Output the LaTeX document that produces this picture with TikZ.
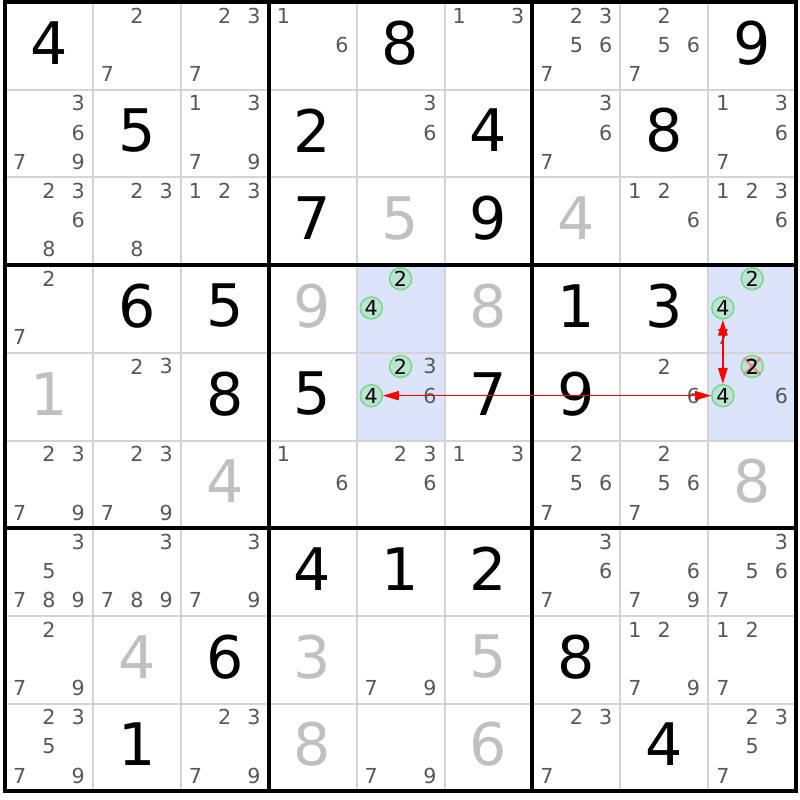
\documentclass[tikz,border=0pt]{standalone}
\usepackage{fontspec}
\setmainfont{DejaVu Sans}
\usetikzlibrary{arrows.meta}

\definecolor{candgray}{RGB}{88,88,88}
\definecolor{solvedgray}{RGB}{192,192,192}
\definecolor{gridgray}{RGB}{212,212,212}
\definecolor{pairblue}{RGB}{220,228,252}
\definecolor{pickgreen}{RGB}{120,215,130}
\definecolor{pickfill}{RGB}{188,228,212}
\definecolor{cutpink}{RGB}{240,128,140}

\tikzset{
  given/.style={inner sep=0pt, font=\fontsize{44}{44}\selectfont},
  solved/.style={given, text=solvedgray},
  cand/.style={inner sep=0pt, text=candgray, font=\fontsize{15.5}{15.5}\selectfont},
  pick/.style={cand, text=black, circle, draw=pickgreen, fill=pickfill, line width=1.1pt, minimum size=16.5pt},
  link/.style={red, line width=0.75pt, >={Triangle[length=12pt,width=7pt]}, <->},
  thinline/.style={gridgray, line width=1.5pt},
  thickline/.style={black, line width=3pt},
}

\begin{document}
\begin{tikzpicture}[x=0.75pt,y=0.75pt,yscale=-1,xscale=1]
  \useasboundingbox (0,0) rectangle (800,800);

  % Highlighted cells
  \fill[pairblue] (356.6,265.1) rectangle (444.5,440.5);
  \fill[pairblue] (708.2,265.1) rectangle (796,440.5);

  % Thin grid lines
  \foreach \i in {1,2,4,5,7,8} {
    \draw[thinline] ({5+\i*87.9},2) -- ({5+\i*87.9},791);
    \draw[thinline] (5,{2+\i*87.7}) -- (796,{2+\i*87.7});
  }
  % Thick grid lines
  \foreach \i in {3,6} {
    \draw[thickline] ({5+\i*87.9},2) -- ({5+\i*87.9},791);
    \draw[thickline] (5,{2+\i*87.7}) -- (796,{2+\i*87.7});
  }
  \draw[thickline] (5,2) rectangle (796,791);

  % Given digits
  \foreach \row/\col/\dig in {1/1/4, 1/5/8, 1/9/9, 2/2/5, 2/4/2, 2/6/4, 2/8/8, 3/4/7, 3/6/9,
      4/2/6, 4/3/5, 4/7/1, 4/8/3, 5/3/8, 5/4/5, 5/6/7, 5/7/9, 7/4/4, 7/5/1, 7/6/2,
      8/3/6, 8/7/8, 9/2/1, 9/8/4}
    \node[given] (g\row\col) at ({5+(\col-0.5)*87.9},{2+(\row-0.5)*87.7-3}) {\dig};

  % Solved digits
  \foreach \row/\col/\dig in {3/5/5, 3/7/4, 4/4/9, 4/6/8, 5/1/1, 6/3/4, 6/9/8, 8/2/4,
      8/4/3, 8/6/5, 9/4/8, 9/6/6}
    \node[solved] (s\row\col) at ({5+(\col-0.5)*87.9},{2+(\row-0.5)*87.7-3}) {\dig};

  % Candidates
  \foreach \row/\col/\digs in {1/2/{2,7}, 1/3/{2,3,7}, 1/4/{1,6}, 1/6/{1,3}, 1/7/{2,3,5,6,7}, 1/8/{2,5,6,7},
      2/1/{3,6,7,9}, 2/3/{1,3,7,9}, 2/5/{3,6}, 2/7/{3,6,7}, 2/9/{1,3,6,7},
      3/1/{2,3,6,8}, 3/2/{2,3,8}, 3/3/{1,2,3}, 3/8/{1,2,6}, 3/9/{1,2,3,6},
      4/1/{2,7}, 4/9/{7},
      5/2/{2,3}, 5/5/{3,6}, 5/8/{2,6}, 5/9/{6},
      6/1/{2,3,7,9}, 6/2/{2,3,7,9}, 6/4/{1,6}, 6/5/{2,3,6}, 6/6/{1,3}, 6/7/{2,5,6,7}, 6/8/{2,5,6,7},
      7/1/{3,5,7,8,9}, 7/2/{3,7,8,9}, 7/3/{3,7,9}, 7/7/{3,6,7}, 7/8/{6,7,9}, 7/9/{3,5,6,7},
      8/1/{2,7,9}, 8/5/{7,9}, 8/8/{1,2,7,9}, 8/9/{1,2,7},
      9/1/{2,3,5,7,9}, 9/3/{2,3,7,9}, 9/5/{7,9}, 9/7/{2,3,7}, 9/9/{2,3,5,7}}
    \foreach \dig in \digs
      \node[cand] (c\row\col\dig) at ({5+(\col-0.5)*87.9+(mod(\dig-1,3)-1)*29.3},
                                      {2+(\row-0.5)*87.7+(floor((\dig-1)/3)-1)*29.2-1}) {\dig};

  % Circled candidates
  \foreach \row/\col/\dig in {4/5/2, 4/5/4, 5/5/2, 5/5/4, 4/9/2, 4/9/4, 5/9/2, 5/9/4}
    \node[pick] (p\row\col\dig) at ({5+(\col-0.5)*87.9+(mod(\dig-1,3)-1)*29.3},
                                    {2+(\row-0.5)*87.7+(floor((\dig-1)/3)-1)*29.2-1}) {\dig};

  % Eliminated candidate
  \draw[cutpink, line width=1.8pt, opacity=0.9] (p592.north west) -- (p592.south east);
  \draw[cutpink, line width=1.8pt, opacity=0.9] (p592.north east) -- (p592.south west);
  \node[cand, text=black] (x592) at (p592) {2};

  % Links
  \draw[link] (p554) -- (p594);
  \draw[link, line width=1.5pt] (p494) -- (p594);
\end{tikzpicture}
\end{document}
